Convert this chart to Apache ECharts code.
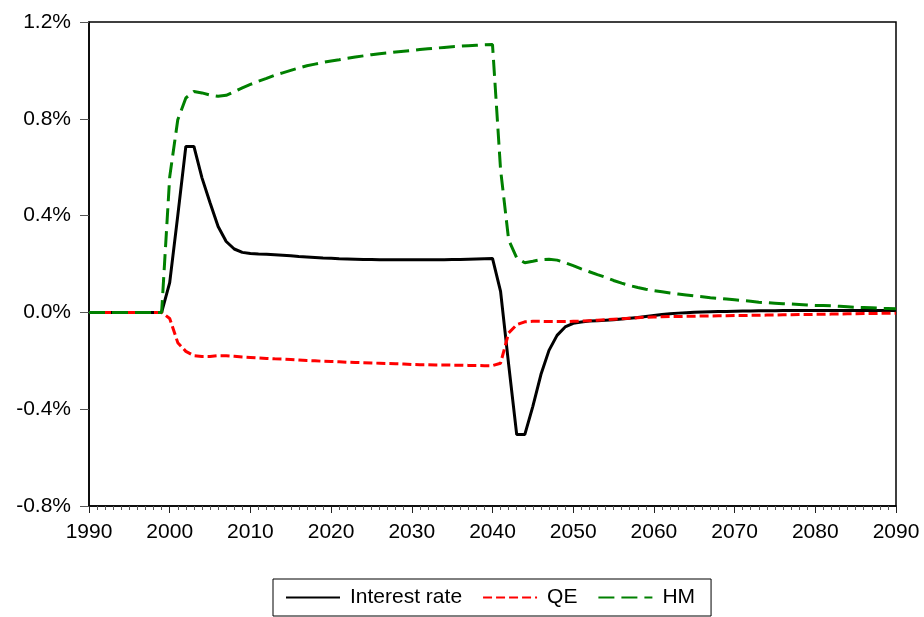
<!DOCTYPE html>
<html>
<head>
<meta charset="utf-8">
<script src="https://cdn.jsdelivr.net/npm/echarts@6/dist/echarts.min.js"></script>
<style>html,body{margin:0;padding:0;background:#fff}#c{width:924px;height:617px}</style>
</head>
<body>
<div id="c"></div>
<script>
var startYear = 1990;
var endYear = 2090;
var seriesNames = ['Interest rate', 'QE', 'HM'];

// values in percent, one per year 1990..2090
var interestRate = [
  0,0,0,0,0,0,0,0,0,0,
  0.123,0.40,0.686,0.686,0.556,0.453,0.355,0.293,0.262,0.248,
  0.243,0.241,0.240,0.238,0.236,0.234,0.231,0.229,0.227,0.225,
  0.224,0.222,0.221,0.220,0.219,0.219,0.218,0.218,0.218,0.218,
  0.218,0.218,0.218,0.218,0.218,0.219,0.219,0.220,0.221,0.222,
  0.223,0.087,-0.215,-0.505,-0.505,-0.388,-0.257,-0.157,-0.095,-0.060,
  -0.045,-0.040,-0.036,-0.034,-0.032,-0.030,-0.027,-0.024,-0.021,-0.017,
  -0.013,-0.009,-0.006,-0.003,-0.001,0.001,0.002,0.003,0.004,0.004,
  0.005,0.006,0.006,0.007,0.007,0.007,0.008,0.008,0.008,0.008,
  0.008,0.008,0.008,0.008,0.008,0.008,0.008,0.008,0.008,0.008,
  0.008
];
var qe = [
  0,0,0,0,0,0,0,0,0,0,
  -0.025,-0.125,-0.161,-0.179,-0.182,-0.182,-0.179,-0.179,-0.181,-0.184,
  -0.186,-0.188,-0.190,-0.192,-0.193,-0.195,-0.197,-0.199,-0.200,-0.202,
  -0.203,-0.204,-0.206,-0.207,-0.208,-0.209,-0.210,-0.211,-0.212,-0.213,
  -0.215,-0.216,-0.216,-0.217,-0.217,-0.218,-0.218,-0.219,-0.219,-0.220,
  -0.220,-0.210,-0.085,-0.051,-0.039,-0.037,-0.037,-0.038,-0.038,-0.038,
  -0.037,-0.036,-0.034,-0.032,-0.030,-0.028,-0.026,-0.024,-0.022,-0.020,
  -0.019,-0.018,-0.017,-0.017,-0.016,-0.016,-0.015,-0.015,-0.014,-0.014,
  -0.013,-0.013,-0.012,-0.012,-0.011,-0.011,-0.010,-0.010,-0.009,-0.009,
  -0.008,-0.008,-0.007,-0.007,-0.006,-0.006,-0.005,-0.005,-0.004,-0.004,
  -0.003
];
var hm = [
  0,0,0,0,0,0,0,0,0,0,
  0.56,0.796,0.886,0.913,0.907,0.898,0.893,0.897,0.912,0.928,
  0.942,0.955,0.967,0.980,0.990,1.000,1.010,1.019,1.026,1.033,
  1.039,1.044,1.050,1.055,1.060,1.065,1.069,1.072,1.076,1.079,
  1.082,1.086,1.089,1.092,1.095,1.098,1.100,1.102,1.104,1.106,
  1.107,0.59,0.30,0.225,0.205,0.211,0.218,0.220,0.216,0.205,
  0.193,0.180,0.168,0.156,0.145,0.132,0.121,0.111,0.103,0.096,
  0.090,0.085,0.080,0.076,0.072,0.068,0.065,0.061,0.058,0.055,
  0.052,0.049,0.046,0.042,0.040,0.038,0.036,0.035,0.033,0.031,
  0.029,0.028,0.027,0.025,0.023,0.021,0.020,0.019,0.017,0.016,
  0.015
];

function pairs(arr){
  var out=[];
  for(var i=0;i<arr.length;i++){ out.push([startYear+i, arr[i]]); }
  return out;
}

var FONT = 'Liberation Sans, Arial, sans-serif';
var chart = echarts.init(document.getElementById('c'), null, {renderer:'canvas'});
chart.setOption({
  animation: false,
  backgroundColor: '#fff',
  grid: {left: 89, right: 28, top: 22, bottom: 111, show: true, borderColor: '#000', borderWidth: 1.5, backgroundColor: 'transparent'},
  xAxis: {
    type: 'value', min: startYear, max: endYear, interval: 10,
    axisLine: {show: true, onZero: false, lineStyle: {color: '#000', width: 1.5}},
    axisTick: {show: true, length: 7, lineStyle: {color: '#222', width: 1}},
    minorTick: {show: true, splitNumber: 10, length: 4, lineStyle: {color: '#555', width: 1}},
    splitLine: {show: false},
    axisLabel: {color: '#000', fontFamily: FONT, fontSize: 21, margin: 16, formatter: function(v){return String(v);}}
  },
  yAxis: {
    type: 'value', min: -0.8, max: 1.2, interval: 0.4,
    axisLine: {show: true, lineStyle: {color: '#000', width: 1.5}},
    axisTick: {show: true, length: 9, lineStyle: {color: '#555', width: 1}},
    splitLine: {show: false},
    axisLabel: {color: '#000', fontFamily: FONT, fontSize: 21, margin: 18, formatter: function(v){return v.toFixed(1)+'%';}}
  },
  legend: {
    show: true, left: 273, top: 579, orient: 'horizontal',
    padding: [8, 16, 8, 12], borderColor: '#000', borderWidth: 1, backgroundColor: '#fff',
    itemWidth: 54, itemHeight: 14, itemGap: 20,
    itemStyle: {opacity: 0},
    textStyle: {color: '#000', fontFamily: FONT, fontSize: 21, lineHeight: 21, padding: [0, 0, 0, 5]},
    data: seriesNames
  },
  series: [
    {name: seriesNames[0], type: 'line', data: pairs(interestRate), symbol: 'none', showSymbol: false,
     lineStyle: {color: '#000', width: 3}, itemStyle: {color: '#000'}},
    {name: seriesNames[1], type: 'line', data: pairs(qe), symbol: 'none', showSymbol: false,
     lineStyle: {color: '#ff0000', width: 3, type: [9, 4]}, itemStyle: {color: '#ff0000'}},
    {name: seriesNames[2], type: 'line', data: pairs(hm), symbol: 'none', showSymbol: false,
     lineStyle: {color: '#008000', width: 3, type: [16, 7]}, itemStyle: {color: '#008000'}}
  ]
});
</script>
</body>
</html>
